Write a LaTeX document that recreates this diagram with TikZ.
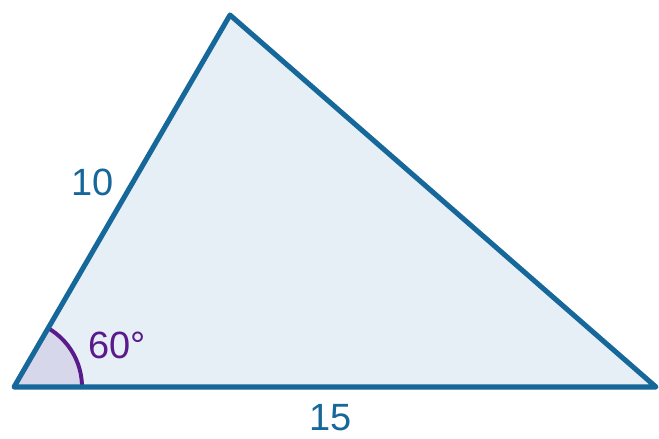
\documentclass[tikz,border=0pt]{standalone}
\usepackage{fontspec}
\setmainfont{Liberation Sans}
\usepackage{tikz}
\usetikzlibrary{shapes}
\pgfdeclarelayer{edgelayer}
\pgfdeclarelayer{nodelayer}
\pgfsetlayers{edgelayer,nodelayer,main}
\definecolor{sideblue}{HTML}{16679A}
\definecolor{faceblue}{HTML}{E6EFF6}
\definecolor{anglefill}{HTML}{D6D7EA}
\definecolor{anglepurple}{HTML}{5B1A8C}
\tikzstyle{none}=[inner sep=0pt]
\tikzstyle{sidelabel}=[inner sep=0pt, text=sideblue, font=\fontsize{27}{30}\selectfont]
\tikzstyle{anglelabel}=[inner sep=0pt, text=anglepurple, font=\fontsize{27}{30}\selectfont]
\tikzstyle{side}=[draw=sideblue, line width=3.6pt, line join=round]

\begin{document}
\begin{tikzpicture}[x=0.025cm, y=-0.025cm]
	\useasboundingbox (0, 0) rectangle (659, 439);
	\begin{pgfonlayer}{nodelayer}
		\coordinate (0) at (14, 387);
		\coordinate (1) at (230, 15);
		\coordinate (2) at (656, 387);
		\node [style=sidelabel] (3) at (93, 182) {10};
		\node [style=anglelabel] (4) at (117, 345) {60°};
		\node [style=sidelabel] (5) at (331, 418) {15};
	\end{pgfonlayer}
	\begin{pgfonlayer}{edgelayer}
		\fill [faceblue] (0) -- (1) -- (2) -- cycle;
		\fill [anglefill] (0) -- ++(68, 0) arc [start angle=0, end angle=-60, radius=68] -- cycle;
		\draw [anglepurple, line width=2.8pt] (0) ++(68, 0) arc [start angle=0, end angle=-60, radius=68];
		\draw [style=side] (0) -- (1) -- (2) -- cycle;
	\end{pgfonlayer}
\end{tikzpicture}
\end{document}
